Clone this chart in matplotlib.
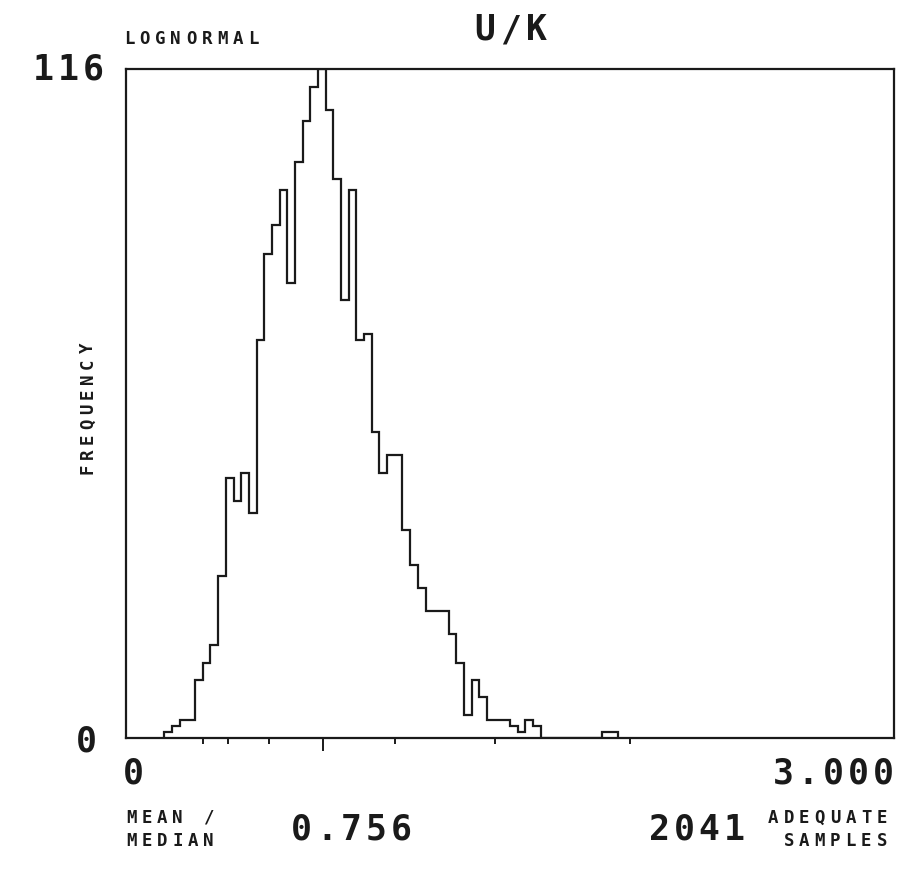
import numpy as np
from matplotlib import pyplot as plt

# U/K ratio histogram, bins of 0.03 starting at 0.15
bin_start = 0.15
bin_width = 0.03
counts = [1, 2, 3, 3, 10, 13, 16, 28, 45, 41, 46, 39,
          69, 84, 89, 95, 79, 100, 107, 113, 116, 109, 97, 76,
          95, 69, 70, 53, 46, 49, 49, 36, 30, 26, 22, 22,
          22, 18, 13, 4, 10, 7, 3, 3, 3, 2, 1, 3, 2,
          0, 0, 0, 0, 0, 0, 0, 0, 1, 1]

x_max = 3.0
y_max = 116
tick_values = [0.30, 0.40, 0.56, 1.05, 1.44, 1.97]
median_tick = 0.77
mean_over_median = "0.756"
n_samples = "2041"

W, H = 923, 873
ink = "#1a1a1a"
mono = "DejaVu Sans Mono"
BIG, SMALL = 25, 12.5
BIG_PITCH, SMALL_PITCH = 25, 15.5

fig = plt.figure(figsize=(W / 100, H / 100), dpi=100)
ax = fig.add_axes([0.1365, 0.155, 0.8321, 0.7656])


def plotter_text(s, x, y, pitch, size, align="left", vertical=False):
    # place characters one by one at a fixed pitch, like a pen plotter would
    # x, y in pixels from top-left; x is the left (or right) edge of the string.
    # vertical: x is the column centre, y the bottom edge, text reads upwards
    n = len(s)
    glyph = pitch * 0.8
    for i, ch in enumerate(s):
        if vertical:
            px, py, rot = x, y - glyph / 2 - i * pitch, 90
        elif align == "right":
            px, py, rot = x - glyph / 2 - (n - 1 - i) * pitch, y, 0
        else:
            px, py, rot = x + glyph / 2 + i * pitch, y, 0
        fig.text(px / W, 1 - py / H, ch, ha="center", va="center", rotation=rot,
                 fontsize=size, family=mono, weight="bold", color=ink)


edges = bin_start + bin_width * np.arange(len(counts) + 1)
ax.stairs(counts, edges, fill=False, color=ink, linewidth=1.6, baseline=0)

ax.set_xlim(0, x_max)
ax.set_ylim(0, y_max)
for s in ax.spines.values():
    s.set_color(ink)
    s.set_linewidth(1.6)

ax.set_xticks(tick_values)
ax.set_xticks([median_tick], minor=True)
ax.tick_params(axis="x", which="major", direction="out", length=4.5, width=1.4,
               color=ink, labelbottom=False)
ax.tick_params(axis="x", which="minor", direction="out", length=9, width=1.4,
               color=ink, labelbottom=False)
ax.set_yticks([])

# header
plotter_text("LOGNORMAL", 123, 38.5, SMALL_PITCH, SMALL)
plotter_text("U/K", 474, 30, 26, BIG)

# y axis
plotter_text(str(y_max), 103, 70, BIG_PITCH, BIG, align="right")
plotter_text("0", 96, 742, BIG_PITCH, BIG, align="right")
plotter_text("FREQUENCY", 88, 475, 15.1, SMALL, vertical=True)

# x axis ends
plotter_text("0", 123, 774, BIG_PITCH, BIG)
plotter_text(f"{x_max:.3f}", 893, 774, BIG_PITCH, BIG, align="right")

# footer
plotter_text("MEAN /", 125, 818, SMALL_PITCH, SMALL)
plotter_text("MEDIAN", 125, 841.5, SMALL_PITCH, SMALL)
plotter_text(mean_over_median, 291.5, 830, BIG_PITCH, BIG)
plotter_text(n_samples, 649, 830, BIG_PITCH, BIG)
plotter_text("ADEQUATE", 888, 818, SMALL_PITCH, SMALL, align="right")
plotter_text("SAMPLES", 888, 841.5, SMALL_PITCH, SMALL, align="right")

fig.savefig("out.png", dpi=100)
